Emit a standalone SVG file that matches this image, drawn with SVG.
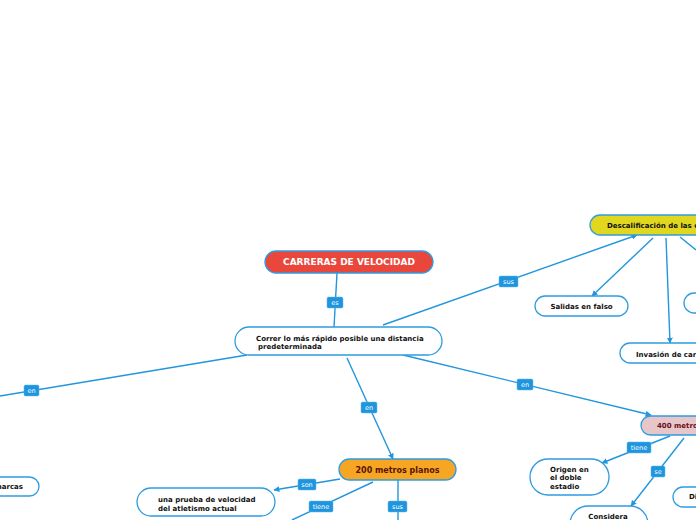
<svg xmlns="http://www.w3.org/2000/svg" width="696" height="520" viewBox="0 0 696 520">
<style>
.n{fill:#fff;stroke:#2f9be0;stroke-width:1.3}
.t{font-family:"DejaVu Sans",Verdana,sans-serif;font-weight:bold;font-size:7px;fill:#111}
.c{fill:none;stroke:#2196df;stroke-width:1.4}
.lb{fill:#1f95de;stroke:#5fb6ec;stroke-width:0.5}
.lt{font-family:"DejaVu Sans",Verdana,sans-serif;font-size:6.5px;fill:#fff;text-anchor:middle}
</style>
<defs>
<marker id="ah" viewBox="0 0 10 10" refX="9" refY="5" markerWidth="6" markerHeight="6" markerUnits="userSpaceOnUse" orient="auto">
<path d="M0,0 L10,5 L0,10 z" fill="#2196df"/>
</marker>
</defs>
<rect width="696" height="520" fill="#fff"/>
<g id="connectors">
<path class="c" d="M337,273 L334,327"/>
<path class="c" d="M383,325 L637,235" marker-end="url(#ah)"/>
<path class="c" d="M247,355 L0,396"/>
<path class="c" d="M347,358 L393,459" marker-end="url(#ah)"/>
<path class="c" d="M403,355 L651,415" marker-end="url(#ah)"/>
<path class="c" d="M653,238 L592,296" marker-end="url(#ah)"/>
<path class="c" d="M666,238 L670,343" marker-end="url(#ah)"/>
<path class="c" d="M680,237 L696,250"/>
<path class="c" d="M670,436 L602,463" marker-end="url(#ah)"/>
<path class="c" d="M684,438 L631,506" marker-end="url(#ah)"/>
<path class="c" d="M340,479 L274,490" marker-end="url(#ah)"/>
<path class="c" d="M373,482 L292,520"/>
<path class="c" d="M398,480 L398,520"/>
<rect class="lb" x="327" y="297" width="16" height="11" rx="1.5"/>
<text class="lt" x="335" y="304.5">es</text>
<rect class="lb" x="499" y="276" width="19" height="11" rx="1.5"/>
<text class="lt" x="508.5" y="283.5">sus</text>
<rect class="lb" x="24" y="385" width="15" height="11" rx="1.5"/>
<text class="lt" x="31.5" y="392.5">en</text>
<rect class="lb" x="361" y="402" width="16" height="11" rx="1.5"/>
<text class="lt" x="369" y="409.5">en</text>
<rect class="lb" x="517" y="379" width="16" height="11" rx="1.5"/>
<text class="lt" x="525" y="386.5">en</text>
<rect class="lb" x="627" y="442" width="24" height="11" rx="1.5"/>
<text class="lt" x="639" y="449.5">tiene</text>
<rect class="lb" x="651" y="466" width="14" height="11" rx="1.5"/>
<text class="lt" x="658" y="473.5">se</text>
<rect class="lb" x="298" y="479" width="18" height="11" rx="1.5"/>
<text class="lt" x="307" y="486.5">son</text>
<rect class="lb" x="309" y="501" width="24" height="11" rx="1.5"/>
<text class="lt" x="321" y="508.5">tiene</text>
<rect class="lb" x="388" y="501" width="19" height="11" rx="1.5"/>
<text class="lt" x="397.5" y="508.5">sus</text>
</g>
<g id="carreras">
<rect x="265" y="251" width="168" height="22" rx="11" fill="#ea473c" stroke="#2f9be0" stroke-width="1.3"/>
<text class="t" x="349" y="265.3" font-size="9" style="font-size:9px;fill:#fff" text-anchor="middle">CARRERAS DE VELOCIDAD</text>
</g>
<g id="correr">
<rect class="n" x="235" y="327" width="207" height="28" rx="14"/>
<text class="t" x="256" y="340.8">Correr lo más rápido posible una distancia</text>
<text class="t" x="258" y="348.8">predeterminada</text>
</g>
<g id="descalificacion">
<rect x="590" y="215" width="130" height="20" rx="10" fill="#e2d71f" stroke="#2f9be0" stroke-width="1.3"/>
<text class="t" x="607" y="228.2">Descalificación de las c</text>
</g>
<g id="salidas">
<rect class="n" x="535" y="296" width="93" height="20" rx="10"/>
<text class="t" x="581.5" y="309.2" text-anchor="middle">Salidas en falso</text>
</g>
<g id="partial-right">
<rect class="n" x="684" y="293" width="40" height="20" rx="10"/>
</g>
<g id="invasion">
<rect class="n" x="620" y="343" width="100" height="20" rx="10"/>
<text class="t" x="636" y="356.5">Invasión de car</text>
</g>
<g id="m400">
<rect x="641" y="416" width="80" height="19" rx="9.5" fill="#e7c6ca" stroke="#2f9be0" stroke-width="1.3"/>
<text class="t" x="657" y="428" style="fill:#6a1020">400 metro</text>
</g>
<g id="origen">
<rect class="n" x="530" y="459" width="79" height="36" rx="18"/>
<text class="t" x="550" y="471.5">Origen en</text>
<text class="t" x="550" y="480">el doble</text>
<text class="t" x="550" y="488.5">estadio</text>
</g>
<g id="considera">
<rect class="n" x="570" y="506" width="78" height="40" rx="18"/>
<text class="t" x="608" y="518.5" text-anchor="middle">Considera</text>
</g>
<g id="di">
<rect class="n" x="673" y="487" width="60" height="20" rx="10"/>
<text class="t" x="689" y="499.3">Di</text>
</g>
<g id="m200">
<rect x="339" y="459" width="117" height="21" rx="10.5" fill="#f6a623" stroke="#2f9be0" stroke-width="1.3"/>
<text class="t" x="397.5" y="472.9" style="font-size:8px;fill:#5a1405" text-anchor="middle">200 metros planos</text>
</g>
<g id="prueba">
<rect class="n" x="137" y="488" width="138" height="28" rx="14"/>
<text class="t" x="158" y="501.5">una prueba de velocidad</text>
<text class="t" x="158" y="510.5">del atletismo actual</text>
</g>
<g id="marcas">
<rect class="n" x="-60" y="477" width="99" height="19" rx="9.5"/>
<text class="t" x="23" y="489.2" text-anchor="end">marcas</text>
</g>
</svg>
